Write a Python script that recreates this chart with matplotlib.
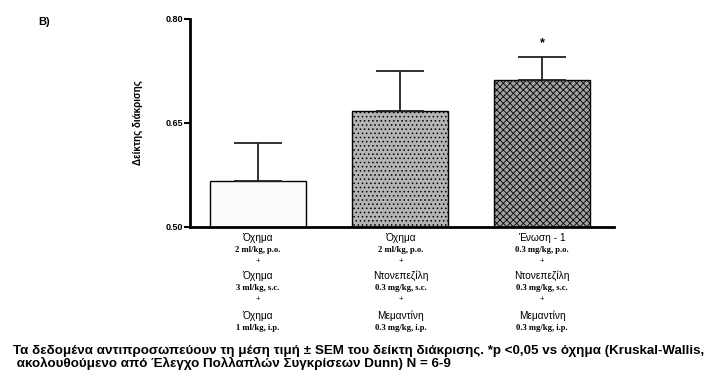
import matplotlib

matplotlib.use("Agg")
import matplotlib.pyplot as plt
import numpy as np

plt.rcParams["font.family"] = ["Liberation Sans", "DejaVu Sans"]
plt.rcParams["hatch.linewidth"] = 0.6

# --- data ---
groups = ["Όχημα + Όχημα + Όχημα", "Όχημα + Ντονεπεζίλη + Μεμαντίνη", "Ένωση-1 + Ντονεπεζίλη + Μεμαντίνη"]
means = [0.566, 0.667, 0.712]
sems = [0.055, 0.058, 0.033]
significant = [False, False, True]

yticks = [0.50, 0.65, 0.80]
ytick_labels = ["0.50", "0.65", "0.80"]
ylabel = "Δείκτης διάκρισης"
panel_label = "B)"

# label lines under each bar: (drug, dose) x 3
label_rows = [
    [("Όχημα", "2 ml/kg, p.o."), ("Όχημα", "3 ml/kg, s.c."), ("Όχημα", "1 ml/kg, i.p.")],
    [("Όχημα", "2 ml/kg, p.o."), ("Ντονεπεζίλη", "0.3 mg/kg, s.c."), ("Μεμαντίνη", "0.3 mg/kg, i.p.")],
    [("Ένωση - 1", "0.3 mg/kg, p.o."), ("Ντονεπεζίλη", "0.3 mg/kg, s.c."), ("Μεμαντίνη", "0.3 mg/kg, i.p.")],
]

caption = [
    "Τα δεδομένα αντιπροσωπεύουν τη μέση τιμή ± SEM του δείκτη διάκρισης. *p <0,05 vs όχημα (Kruskal-Wallis,",
    " ακολουθούμενο από Έλεγχο Πολλαπλών Συγκρίσεων Dunn) N = 6-9",
]

W, H = 713, 376
fig = plt.figure(figsize=(W / 100, H / 100), dpi=100)
ax = fig.add_axes([190 / W, 1 - 227 / H, (614 - 190) / W, (227 - 19) / H])

x = np.arange(len(groups))
faces = ["#fbfbfb", "#b4b4b4", "#a0a0a0"]
hatches = [None, "....", "xxxxx"]
bars = ax.bar(x, means, width=0.68, color=faces, edgecolor="black", linewidth=1.0)
for b, h in zip(bars, hatches):
    if h:
        b.set_hatch(h)
ax.errorbar(
    x, means, yerr=[np.zeros(len(sems)), sems], fmt="none",
    ecolor="#222222", elinewidth=1.3, capsize=17, capthick=1.3,
)
for xi, m, s, sig in zip(x, means, sems, significant):
    if sig:
        ax.text(xi, m + s + 0.012, "*", ha="center", va="bottom", fontsize=9, fontweight="bold")

ax.set_xlim(-0.479, 2.507)
ax.set_ylim(0.50, 0.80)
ax.set_yticks(yticks)
ax.set_yticklabels(ytick_labels, fontsize=6.5, fontweight="bold")
ax.set_xticks([])
ax.tick_params(axis="y", direction="out", length=4, width=1.5, pad=1)
for side in ["top", "right"]:
    ax.spines[side].set_visible(False)
for side in ["left", "bottom"]:
    ax.spines[side].set_linewidth(2.0)

ax.set_ylabel(ylabel, fontsize=7, fontweight="bold", labelpad=16)
fig.text(38 / W, 1 - 22 / H, panel_label, fontsize=8, fontweight="bold", ha="left", va="center")

centers_px = [258, 401, 542]
drug_rows_px = [238, 276, 316]
for cx, rows in zip(centers_px, label_rows):
    for k, (drug, dose) in enumerate(rows):
        y0 = drug_rows_px[k]
        fig.text(cx / W, 1 - y0 / H, drug, fontsize=7.3, ha="center", va="center")
        fig.text(cx / W, 1 - (y0 + 12) / H, dose, fontsize=6.2, ha="center", va="center",
                 family=["Liberation Serif", "DejaVu Serif"], fontweight="bold")
        if k < 2:
            fig.text(cx / W, 1 - (y0 + 24) / H, "+", fontsize=5.5, ha="center", va="center")

fig.text(13 / W, 1 - 351 / H, caption[0], fontsize=9.6, ha="left", va="center", fontweight="bold")
fig.text(13 / W, 1 - 363 / H, caption[1], fontsize=9.6, ha="left", va="center", fontweight="bold")

fig.savefig("out.png", dpi=100)
